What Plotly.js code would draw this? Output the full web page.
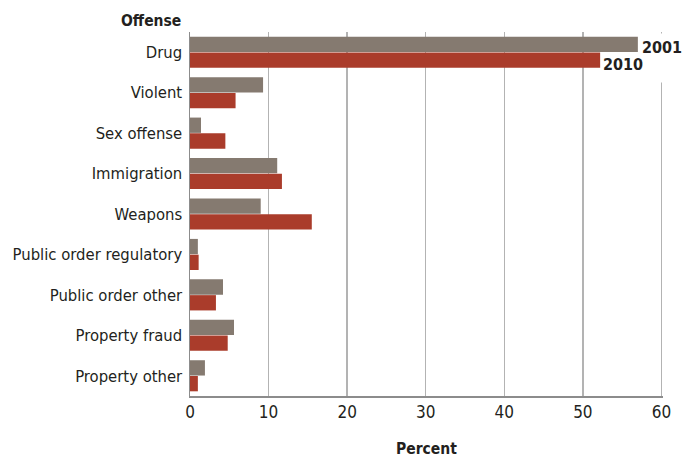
<!DOCTYPE html>
<html>
<head>
<meta charset="utf-8">
<script src="https://cdn.plot.ly/plotly-3.0.1.min.js"></script>
<style>html,body{margin:0;padding:0;background:#fff;}#chart{width:693px;height:459px;}</style>
</head>
<body>
<div id="chart"></div>
<script>
var categories = ["Drug","Violent","Sex offense","Immigration","Weapons","Public order regulatory","Public order other","Property fraud","Property other"];
var values2001 = [57.0, 9.3, 1.4, 11.1, 9.0, 1.0, 4.2, 5.6, 1.9];
var values2010 = [52.2, 5.8, 4.5, 11.7, 15.5, 1.1, 3.3, 4.8, 1.0];
var tickVals = [0,10,20,30,40,50,60];

var FONT = "'DejaVu Sans Condensed', 'Liberation Sans', sans-serif";
var TXT = "#231f20";

var traces = [
  {type:"bar", orientation:"h", name:"2001", y:categories, x:values2001,
   marker:{color:"#857a70"}, hoverinfo:"x+y"},
  {type:"bar", orientation:"h", name:"2010", y:categories, x:values2010,
   marker:{color:"#aa3c2b"}, hoverinfo:"x+y"}
];

var layout = {
  width:693, height:459,
  margin:{l:190, r:30, t:32, b:63},
  paper_bgcolor:"#fff", plot_bgcolor:"#fff",
  barmode:"group", bargap:0.22, bargroupgap:0.03,
  showlegend:false,
  font:{family:FONT, color:TXT, size:16.5},
  xaxis:{range:[0,60.2], tickvals:tickVals, ticktext:tickVals.map(String),
    showgrid:true, gridcolor:"#b3b3b3", gridwidth:1.5, zeroline:false,
    showline:true, linecolor:"#8c8c8c", linewidth:1.5, ticks:"", fixedrange:true,
    tickfont:{family:FONT, size:17, color:TXT},
    title:{text:"<b>Percent</b>", font:{family:FONT, size:15.5, color:TXT}, standoff:22}},
  yaxis:{type:"category", categoryorder:"array", categoryarray:categories,
    autorange:"reversed",
    showgrid:false, zeroline:false, showline:true, linecolor:"#8c8c8c", linewidth:1.5,
    ticks:"", ticklen:0, ticklabelstandoff:3, tickfont:{family:FONT, size:16.5, color:TXT}, automargin:false},
  annotations:[
    {xref:"paper", yref:"paper", x:-0.015, y:1.0, xanchor:"right", yanchor:"bottom",
     text:"<b>Offense</b>", showarrow:false, font:{family:FONT, size:15.5, color:TXT}},
    {xref:"x", yref:"paper", x:60, y:1 - (33-32)/363, xanchor:"center", yanchor:"top",
     text:" ", width:12, height:48, bgcolor:"#fff", borderpad:0, showarrow:false,
     font:{family:FONT, size:10, color:"#fff"}},
    {xref:"x", yref:"paper", x:values2001[0], y:1 - (47-32)/363, xanchor:"left", yanchor:"middle",
     text:"<b>2001</b>", showarrow:false, bgcolor:"#fff", xshift:2, font:{family:FONT, size:16, color:TXT}},
    {xref:"x", yref:"paper", x:values2010[0], y:1 - (64-32)/363, xanchor:"left", yanchor:"middle",
     text:"<b>2010</b>", showarrow:false, xshift:1, font:{family:FONT, size:16, color:TXT}}
  ]
};

Plotly.newPlot("chart", traces, layout, {staticPlot:true, displayModeBar:false});
</script>
</body>
</html>
